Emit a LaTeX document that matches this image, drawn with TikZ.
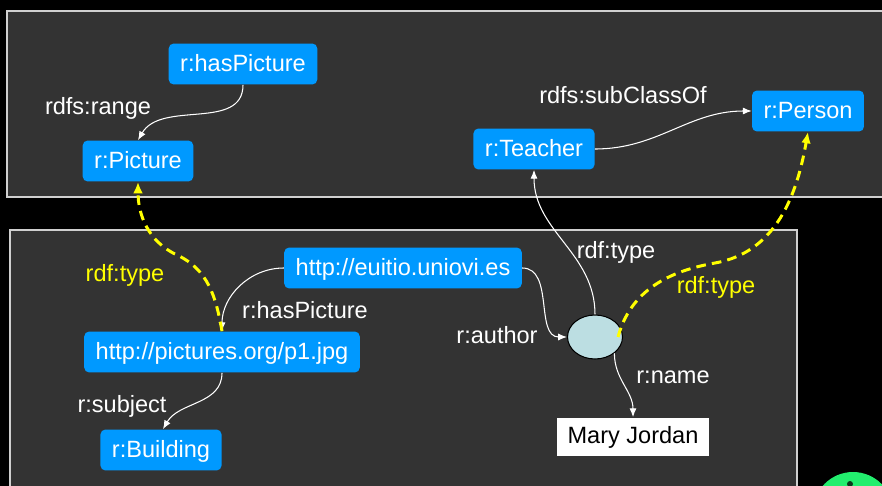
\documentclass[tikz,border=0pt]{standalone}
\usepackage{fontspec}
\setmainfont{Liberation Sans}
\usetikzlibrary{arrows.meta,shapes.geometric}

\definecolor{panel}{HTML}{333333}
\definecolor{panelline}{HTML}{D0D0D0}
\definecolor{resblue}{HTML}{0099FF}
\definecolor{bnodefill}{HTML}{BCDEE2}
\definecolor{typeyellow}{HTML}{FFFF00}
\definecolor{buttongreen}{HTML}{22EE6E}

\tikzset{
	every node/.style={font=\fontsize{13.4}{16}\selectfont},
	res/.style={fill=resblue, text=white, rounded corners=0.1cm, inner xsep=0.23cm, inner ysep=0pt,
		minimum height=0.82cm, text height=0.82em, text depth=0pt},
	literal/.style={fill=white, text=black, inner xsep=0.22cm, inner ysep=0pt,
		minimum height=0.78cm, text height=0.72em, text depth=0pt},
	bnode/.style={ellipse, draw=black, fill=bnodefill, line width=0.6pt, inner sep=0pt,
		minimum width=1.1cm, minimum height=0.88cm},
	prop/.style={text=white, anchor=base},
	typelbl/.style={text=typeyellow, anchor=base},
	link/.style={draw=white, line width=0.6pt, -{Latex[length=5pt,width=4pt]}},
	typelink/.style={draw=typeyellow, line width=1.7pt, dash pattern=on 5.5pt off 3.5pt,
		-{Latex[length=6.5pt,width=5.5pt]}}
}

\begin{document}
\begin{tikzpicture}[x=0.02cm,y=0.02cm]
	\useasboundingbox (0,0) rectangle (882,-486);
	\fill[black] (0,0) rectangle (882,-486);

	% schema (top) and data (bottom)
	\draw[panelline, line width=0.6pt, fill=panel] (7,-11) rectangle (895,-197);
	\draw[panelline, line width=0.6pt, fill=panel] (10,-230) rectangle (797,-500);

	% corner button
	\fill[buttongreen] (853,-512) circle (0.8cm);
	\fill[black!75!buttongreen] (850,-484) circle (0.06cm);

	\node[res] (hasPicProp) at (243,-64) {r:hasPicture};
	\node[res] (pictureCls) at (138,-161) {r:Picture};
	\node[res] (teacherCls) at (534,-149) {r:Teacher};
	\node[res] (personCls) at (808,-111) {r:Person};
	\node[res] (euitio) at (403,-268) {http://euitio.uniovi.es};
	\node[res] (photo) at (222,-352) {http://pictures.org/p1.jpg};
	\node[res] (buildingCls) at (161,-450) {r:Building};
	\node[bnode] (author) at (595,-337) {};
	\node[literal] (maryName) at (633,-437) {Mary Jordan};

	\draw[link] (hasPicProp.south) to[out=-90,in=60] (pictureCls.north);
	\draw[link] (teacherCls.east) to[out=0,in=180] (personCls.west);
	\draw[link] (euitio.west) to[out=180,in=90] (photo.north);
	\draw[link] (photo.south) to[out=-90,in=60] ([xshift=0.04cm]buildingCls.north);
	\draw[link] (euitio.east) to[out=0,in=180] (author.west);
	\draw[link] (author.north) to[out=90,in=-90] (teacherCls.south);
	\draw[link] (author.-40) to[out=-90,in=90] (maryName.north);

	% rdf:type links across the panels
	\draw[typelink] (photo.north) to[out=100,in=-25] (177,-255) to[out=155,in=-90] (pictureCls.south);
	\draw[typelink] ([xshift=-0.1cm]author.east) to[out=75,in=190] (715,-263)
		to[out=10,in=-100] (personCls.south);

	\node[prop] (rangeLbl) at (98,-115) {rdfs:range};
	\node[prop] (subClassLbl) at (623,-104) {rdfs:subClassOf};
	\node[typelbl] (photoTypeLbl) at (125,-281) {rdf:type};
	\node[prop] (hasPicLbl) at (305,-318) {r:hasPicture};
	\node[prop] (subjectLbl) at (122,-412) {r:subject};
	\node[prop] (teacherTypeLbl) at (616,-258) {rdf:type};
	\node[typelbl] (personTypeLbl) at (716,-294) {rdf:type};
	\node[prop] (authorLbl) at (497,-343) {r:author};
	\node[prop] (nameLbl) at (673,-383) {r:name};
\end{tikzpicture}
\end{document}
